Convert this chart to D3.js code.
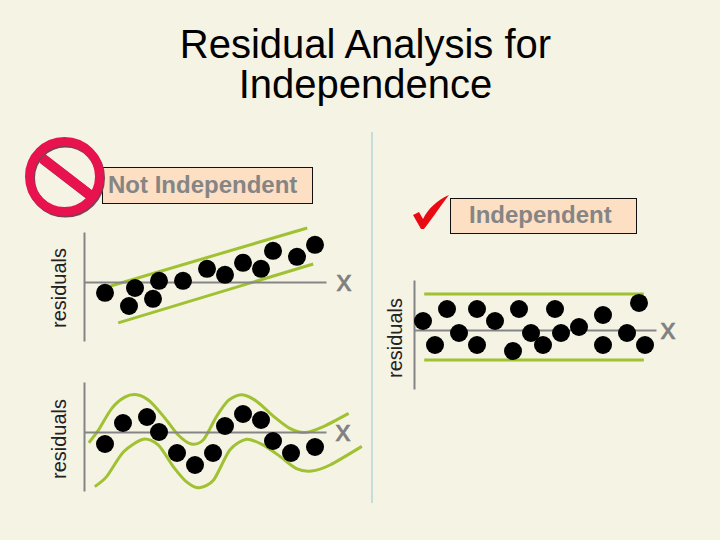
<!DOCTYPE html>
<html>
<head>
<meta charset="utf-8">
<script src="https://cdn.jsdelivr.net/npm/d3@7"></script>
<style>
  html, body { margin: 0; padding: 0; background: #f5f3e4; }
  svg { display: block; font-family: "Liberation Sans", Arial, sans-serif; }
</style>
</head>
<body>
<div id="chart"></div>
<script>
// all three plots share one scale: x 0..40, residual -10..8 (roughly)
const trendX = [3.5, 8.5, 7.5, 12.5, 11.5, 16.5, 20.5, 23.5, 26.5, 29.5, 31.5, 35.5, 38.5];
const trendY = [-1.8, -1, -4, 0.2, -2.8, 0.2, 2.2, 1.2, 3.2, 2.2, 5.2, 4.2, 6.2];
const trendUpper = [[4.3, -0.7], [37.2, 9]];
const trendLower = [[5.7, -6.8], [38.2, 3]];

const waveX = [3.5, 6.5, 10.5, 12.5, 15.5, 18.5, 21.5, 23.5, 26.5, 29.5, 31.5, 34.5, 38.5];
const waveY = [-2, 1.5, 2.5, 0, -3.5, -5.5, -3.5, 1, 3, 2, -1.5, -3.5, -2.5];
const waveUpper = [[0.8, -1.8], [2.4, 0.3], [4.6, 3.9], [6.8, 5.8], [8.8, 6.2], [11, 5.1], [13.5, 2.3], [15.7, -0.5],
  [17.9, -2], [19.9, -1.3], [22.1, 2.6], [24.1, 5.3], [26.3, 6.2], [28.8, 5.1], [31.6, 2.6], [34.3, 0.6],
  [36.8, -0.1], [39.9, 0.9], [44.1, 3.1]];
const waveLower = [[1.8, -9.1], [3.8, -7.4], [6.6, -3.3], [9.9, -1.2], [12.4, -2.2], [14.9, -5.8], [17.1, -8.3],
  [19.2, -9.3], [21.6, -8], [24.3, -3], [27.1, -1.2], [29.9, -2.2], [32.7, -4.1], [35.4, -6.1], [37.9, -6.5],
  [41, -5.5], [46.3, -2.4]];

const flatX = [1.5, 3.5, 5.5, 7.5, 10.5, 10.5, 13.5, 16.5, 17.5, 19.5, 21.5, 23.5, 24.5, 27.5, 31.5, 31.5, 35.5, 37.5, 38.5];
const flatY = [1.5, -2.5, 3.5, -0.5, 3.5, -2.5, 1.5, -3.5, 3.5, -0.5, -2.5, 3.5, -0.5, 0.5, 2.5, -2.5, -0.5, 4.5, -2.5];
const flatUpper = [[1.7, 6], [38.3, 6]];
const flatLower = [[1.7, -5], [38.3, -5]];

const titleLines = ["Residual Analysis for", "Independence"];

const width = 720, height = 540;
const svg = d3.select("#chart").append("svg").attr("width", width).attr("height", height);

svg.append("rect").attr("width", width).attr("height", height).attr("fill", "#f5f3e4");

svg.selectAll(".title").data(titleLines).enter().append("text")
  .attr("class", "title")
  .attr("x", 365.5)
  .attr("y", (d, i) => 58 + i * 39.5)
  .attr("text-anchor", "middle")
  .attr("font-size", 40)
  .attr("fill", "#000")
  .text(d => d);

// divider between the two cases
svg.append("line")
  .attr("x1", 372).attr("x2", 372).attr("y1", 132).attr("y2", 503)
  .attr("stroke", "#c5dcd8").attr("stroke-width", 2);

function drawPlot(opts) {
  const x = d3.scaleLinear().domain([0, 40.33]).range([opts.left, opts.left + 242]);
  const y = d3.scaleLinear().domain([-9.83, 8.33]).range([opts.top + 109, opts.top]);
  const g = svg.append("g");

  const line = d3.line().x(d => x(d[0])).y(d => y(d[1]));
  if (opts.curved) line.curve(d3.curveCardinal.tension(0.2));

  g.selectAll(".band").data(opts.bands).enter().append("path")
    .attr("class", "band")
    .attr("d", line)
    .attr("fill", "none")
    .attr("stroke", "#a0c132")
    .attr("stroke-width", 3);

  const xAxis = g.append("g")
    .attr("transform", `translate(0,${y(0)})`)
    .call(d3.axisBottom(x).tickValues([]).tickSizeOuter(0));
  const yAxis = g.append("g")
    .attr("transform", `translate(${x(0)},0)`)
    .call(d3.axisLeft(y).tickValues([]).tickSizeOuter(0));
  [xAxis, yAxis].forEach(a => a.select(".domain").attr("stroke", "#858585").attr("stroke-width", 2));

  g.selectAll(".dot").data(opts.xs).enter().append("circle")
    .attr("class", "dot")
    .attr("cx", d => x(d))
    .attr("cy", (d, i) => y(opts.ys[i]))
    .attr("r", 9)
    .attr("fill", "#000");

  g.append("text")
    .attr("x", opts.xLabel[0]).attr("y", opts.xLabel[1])
    .attr("text-anchor", "middle")
    .attr("font-size", 30)
    .attr("fill", "#808080")
    .attr("stroke", "#808080")
    .attr("stroke-width", 0.6)
    .text("x");

  g.append("text")
    .attr("transform", `translate(${opts.yLabel[0]},${opts.yLabel[1]}) rotate(-90)`)
    .attr("text-anchor", "middle")
    .attr("font-size", 20)
    .attr("fill", "#222")
    .text("residuals");
}

drawPlot({ left: 84, top: 232, xs: trendX, ys: trendY, bands: [trendUpper, trendLower], xLabel: [344, 291], yLabel: [66, 288] });
drawPlot({ left: 84, top: 382, xs: waveX, ys: waveY, bands: [waveUpper, waveLower], curved: true, xLabel: [343, 441], yLabel: [66, 439] });
drawPlot({ left: 414, top: 280, xs: flatX, ys: flatY, bands: [flatUpper, flatLower], xLabel: [668, 339], yLabel: [402, 338] });

function labelBox(x0, y0, w, h, label, tx, ty) {
  svg.append("rect")
    .attr("x", x0).attr("y", y0).attr("width", w).attr("height", h)
    .attr("fill", "#fddfc3").attr("stroke", "#111").attr("stroke-width", 1);
  svg.append("text")
    .attr("x", tx).attr("y", ty)
    .attr("font-size", 24)
    .attr("font-weight", "bold")
    .attr("fill", "#858585")
    .text(label);
}
labelBox(102.5, 167.5, 210, 36, "Not Independent", 108, 193);
labelBox(450.5, 198.5, 186, 35, "Independent", 469, 223);

// no-entry sign, dark shadow underneath
const sign = svg.append("g");
sign.append("circle").attr("cx", 65.5).attr("cy", 178).attr("r", 35)
  .attr("fill", "none").attr("stroke", "#7a3f55").attr("stroke-width", 9);
sign.append("line").attr("x1", 43).attr("y1", 159).attr("x2", 91).attr("y2", 196)
  .attr("stroke", "#7a3f55").attr("stroke-width", 10);
sign.append("circle").attr("cx", 64.5).attr("cy", 176.5).attr("r", 35)
  .attr("fill", "none").attr("stroke", "#e8124f").attr("stroke-width", 9);
sign.append("line").attr("x1", 42).attr("y1", 158).attr("x2", 90).attr("y2", 195)
  .attr("stroke", "#e8124f").attr("stroke-width", 10);

// check mark
svg.append("path")
  .attr("d", "M413,215 L419,212 L423,219 C428,209 437,200 449,195 C442,204 434,216 424,229 L421,229 Z")
  .attr("fill", "#ea0a14");
</script>
</body>
</html>
